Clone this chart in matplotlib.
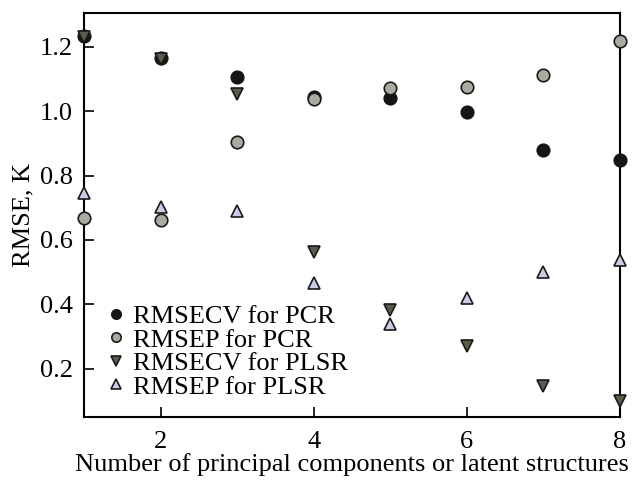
import matplotlib
matplotlib.use('Agg')
import matplotlib.pyplot as plt

plt.rcParams['font.family'] = ['Liberation Serif', 'DejaVu Serif']

# 数据
n_comp = [1, 2, 3, 4, 5, 6, 7, 8]
rmsecv_pcr = [1.234, 1.164, 1.105, 1.045, 1.042, 0.997, 0.881, 0.847]
rmsep_pcr = [0.669, 0.662, 0.903, 1.037, 1.073, 1.074, 1.111, 1.218]
rmsecv_plsr = [1.229, 1.161, 1.052, 0.563, 0.384, 0.272, 0.147, 0.100]
rmsep_plsr = [0.747, 0.703, 0.691, 0.467, 0.338, 0.419, 0.500, 0.538]

fig = plt.figure(figsize=(6.34, 4.8), dpi=100)
ax = fig.add_axes([0.1325, 0.131, 0.8455, 0.842])

ms = 9
ax.plot(n_comp, rmsecv_pcr, 'o', color='#151515', mec='#151515', ms=ms,
        mew=1.2, clip_on=False, label='RMSECV for PCR', zorder=3)
ax.plot(n_comp, rmsep_pcr, 'o', color='#a9aba1', mec='#1a1a1a', ms=ms,
        mew=1.2, clip_on=False, label='RMSEP for PCR', zorder=4)
ax.plot(n_comp, rmsecv_plsr, 'v', color='#5b5d4b', mec='#1a1a1a', ms=ms,
        mew=1.2, clip_on=False, label='RMSECV for PLSR', zorder=3)
ax.plot(n_comp, rmsep_plsr, '^', color='#c9cce6', mec='#1a1a1a', ms=ms,
        mew=1.2, clip_on=False, label='RMSEP for PLSR', zorder=3)

ax.set_xlim(1, 8)
ax.set_ylim(0.05, 1.305)
ax.set_xticks([2, 4, 6, 8])
ax.set_yticks([0.2, 0.4, 0.6, 0.8, 1.0, 1.2])
ax.set_yticklabels(['0.2', '0.4', '0.6', '0.8', '1.0', '1.2'])
ax.tick_params(direction='in', length=7, width=1.2, labelsize=19)
ax.tick_params(axis='y', pad=8)
ax.tick_params(axis='x', pad=10)
for s in ax.spines.values():
    s.set_linewidth(1.5)

ax.set_xlabel('Number of principal components or latent structures', fontsize=19, labelpad=0)
ax.set_ylabel('RMSE, K', fontsize=19, labelpad=4)

ax.legend(loc='lower left', frameon=False, fontsize=19, handlelength=1.0,
          handletextpad=0.15, labelspacing=0.0, borderaxespad=0.3,
          markerscale=0.75, bbox_to_anchor=(0.0, 0.0))

fig.savefig('out.png', dpi=100)
